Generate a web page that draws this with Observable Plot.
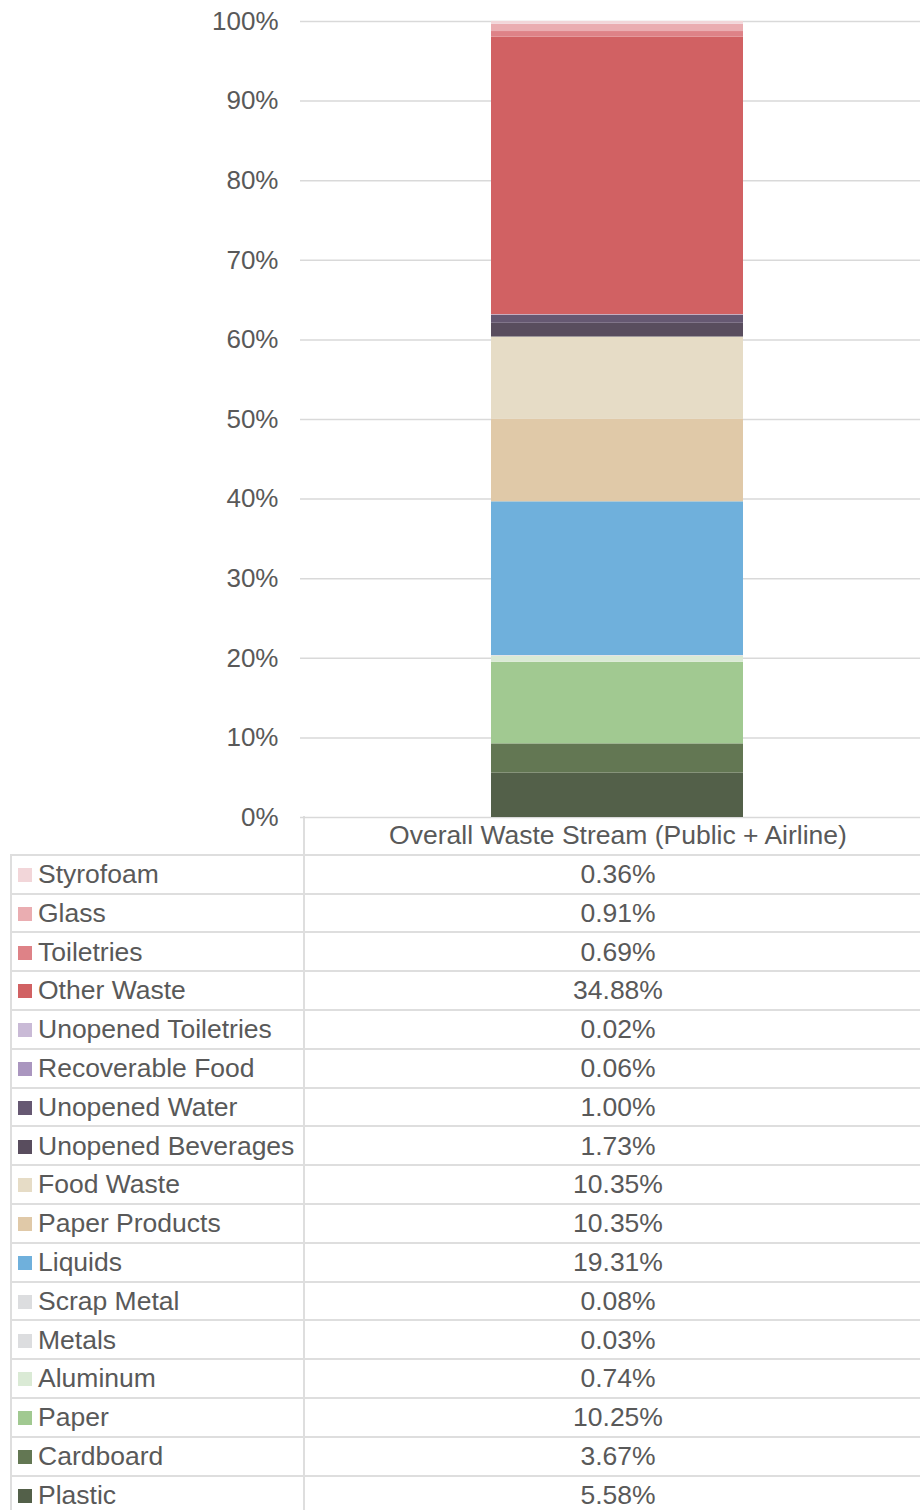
<!DOCTYPE html>
<html>
<head>
<meta charset="utf-8">
<script src="https://cdn.jsdelivr.net/npm/d3@7"></script>
<script src="https://cdn.jsdelivr.net/npm/@observablehq/plot@0.6"></script>
<style>
  html, body { margin: 0; padding: 0; background: #fff; overflow: hidden; }
  #wrap { position: relative; width: 920px; height: 1510px; overflow: hidden; font-family: "Liberation Sans", Arial, sans-serif; color: #595959; }
  #chart { position: absolute; left: 0; top: 0; z-index: 2; }
  #tbl { position: absolute; top: 816px; left: 10px; border-collapse: collapse; table-layout: fixed; width: 921px; font-size: 26.5px; color: #595959; z-index: 1; }
  #tbl tr { height: 38.8px; }
  #tbl td { padding: 0; height: 36.8px; border: 2px solid #DEDEDE; white-space: nowrap; overflow: hidden; line-height: 1; box-sizing: border-box; }
  #tbl td.val { text-align: center; }
  #tbl td.name { padding-left: 6px; }
  #tbl .sw { display: inline-block; width: 14px; height: 14px; margin-right: 6px; vertical-align: 1px; }
  #tbl tr.head td.blank { border-top: none; border-left: none; }
  #tbl tr.head td.val { border-top: none; }
</style>
</head>
<body>
<div id="wrap">
  <div id="chart"></div>
  <table id="tbl"><colgroup><col style="width:293px"><col style="width:628px"></colgroup><tbody></tbody></table>
</div>
<script>
// Category (single bar)
const category = "Overall Waste Stream (Public + Airline)";

// Legend / table order (top of stack first)
const names = [
  "Styrofoam", "Glass", "Toiletries", "Other Waste", "Unopened Toiletries",
  "Recoverable Food", "Unopened Water", "Unopened Beverages", "Food Waste",
  "Paper Products", "Liquids", "Scrap Metal", "Metals", "Aluminum", "Paper",
  "Cardboard", "Plastic"
];
const values = [
  0.36, 0.91, 0.69, 34.88, 0.02, 0.06, 1.00, 1.73, 10.35,
  10.35, 19.31, 0.08, 0.03, 0.74, 10.25, 3.67, 5.58
];
const colors = [
  "#F2D6D9", "#EAADB1", "#DE8287", "#D16163", "#C9BAD6",
  "#AA96BF", "#665872", "#594D5E", "#E6DCC6",
  "#E0C9A8", "#6FB0DC", "#DCDDDF", "#DCDDDF", "#DAEAD5", "#A1C991",
  "#637753", "#536049"
];
const yTicks = [0, 10, 20, 30, 40, 50, 60, 70, 80, 90, 100];

// Stack from the bottom: reverse of legend order
const data = names.map((n, i) => ({name: n, value: values[i], cat: category})).reverse();

const chart = Plot.plot({
  width: 920,
  height: 830,
  marginTop: 21,
  marginBottom: 13,
  marginLeft: 300,
  marginRight: 0,
  style: {fontFamily: "'Liberation Sans', Arial, sans-serif", color: "#595959", background: "transparent", overflow: "visible"},
  x: {domain: [category], range: [303, 931], padding: 0.427, axis: null},
  y: {domain: [0, 100], axis: null},
  color: {domain: names, range: colors},
  marks: [
    Plot.gridY(yTicks, {stroke: "#D9D9D9", strokeOpacity: 1, strokeWidth: 1.5}),
    Plot.axisY(yTicks, {tickSize: 0, tickPadding: 22, fontSize: 26, label: null, tickFormat: d => d + "%", fill: "#595959"}),
    Plot.barY(data, {x: "cat", y: "value", fill: "name"})
  ]
});
document.getElementById("chart").appendChild(chart);

// Data table below the chart
const tbody = d3.select("#tbl tbody");
const head = tbody.append("tr").attr("class", "head");
head.append("td").attr("class", "blank");
head.append("td").attr("class", "val").text(category);
names.forEach((n, i) => {
  const tr = tbody.append("tr");
  const td = tr.append("td").attr("class", "name");
  td.append("span").attr("class", "sw").style("background", colors[i]);
  td.append("span").text(n);
  tr.append("td").attr("class", "val").text(values[i].toFixed(2) + "%");
});
</script>
</body>
</html>
